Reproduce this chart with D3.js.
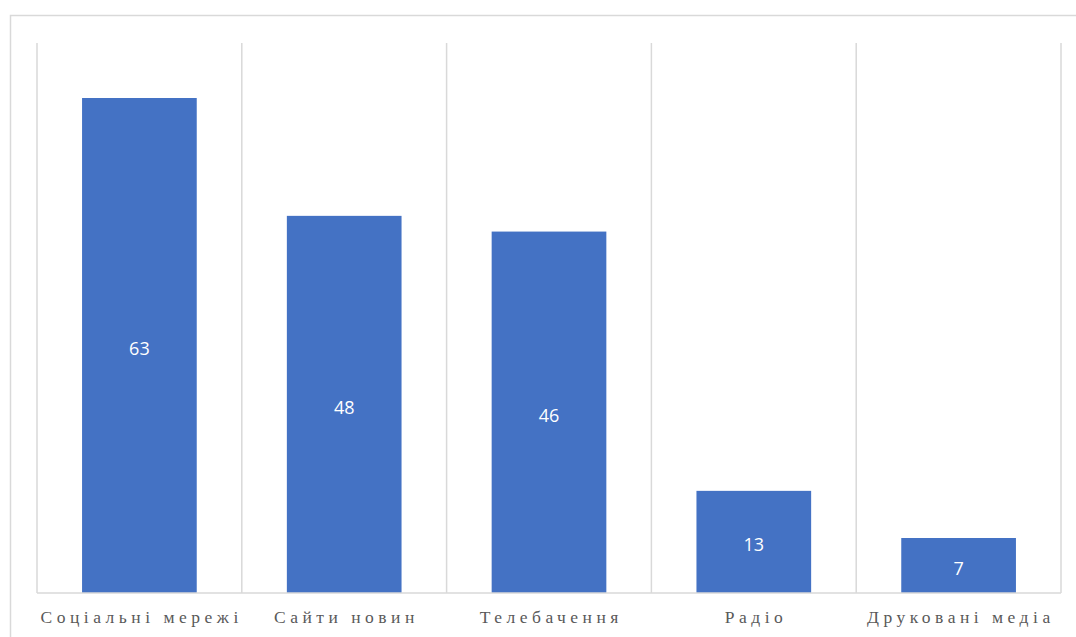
<!DOCTYPE html>
<html>
<head>
<meta charset="utf-8">
<script src="https://cdn.jsdelivr.net/npm/d3@7"></script>
<style>
  body { margin: 0; background: #fff; }
</style>
</head>
<body>
<div class="chart"></div>
<script>
var width = 1076;
var height = 637;

var categories = ['Соціальні мережі', 'Сайти новин', 'Телебачення', 'Радіо', 'Друковані медіа'];
var values = [63, 48, 46, 13, 7];

var margin = {top: 43, right: 15, bottom: 44, left: 37};
var spacing = 4.5;

var svg = d3.select('.chart').append('svg')
  .attr('width', width)
  .attr('height', height);

// chart frame
svg.append('rect')
  .attr('x', 10.5)
  .attr('y', 15.5)
  .attr('width', width)
  .attr('height', height)
  .attr('fill', 'none')
  .attr('stroke', '#d9d9d9')
  .attr('stroke-width', 1.5);

var x = d3.scaleBand()
  .domain(categories)
  .range([margin.left, width - margin.right])
  .paddingInner(0.44)
  .paddingOuter(0.22);

var y = d3.scaleLinear()
  .domain([0, 70])
  .range([height - margin.bottom, margin.top]);

var step = x.step();
var edges = d3.range(categories.length + 1).map(i => margin.left + i * step);

svg.append('g').selectAll('line')
  .data(edges)
  .enter().append('line')
    .attr('x1', d => d)
    .attr('x2', d => d)
    .attr('y1', y(70))
    .attr('y2', y(0))
    .attr('stroke', '#d9d9d9')
    .attr('stroke-width', 1.5);

svg.append('g').selectAll('rect')
  .data(values)
  .enter().append('rect')
    .attr('x', (d, i) => x(categories[i]))
    .attr('y', d => y(d))
    .attr('width', x.bandwidth())
    .attr('height', d => y(0) - y(d))
    .attr('fill', '#4472c4');

// bottom axis line
svg.append('line')
  .attr('x1', edges[0])
  .attr('x2', edges[edges.length - 1])
  .attr('y1', y(0))
  .attr('y2', y(0))
  .attr('stroke', '#d9d9d9')
  .attr('stroke-width', 1.5);

svg.append('g').selectAll('text')
  .data(values)
  .enter().append('text')
    .attr('x', (d, i) => x(categories[i]) + x.bandwidth() / 2)
    .attr('y', d => (y(d) + y(0)) / 2 + 3)
    .attr('text-anchor', 'middle')
    .attr('dy', '0.35em')
    .attr('fill', '#fff')
    .attr('font-family', '"Open Sans", sans-serif')
    .style('font-size', '18px')
    .text(d => d);

svg.append('g').selectAll('text')
  .data(categories)
  .enter().append('text')
    .attr('x', d => x(d) + x.bandwidth() / 2 + spacing / 2)
    .attr('y', 623)
    .attr('text-anchor', 'middle')
    .attr('fill', '#595959')
    .attr('font-family', '"Liberation Serif", "Times New Roman", serif')
    .style('font-size', '17.5px')
    .style('letter-spacing', spacing + 'px')
    .text(d => d);
</script>
</body>
</html>
